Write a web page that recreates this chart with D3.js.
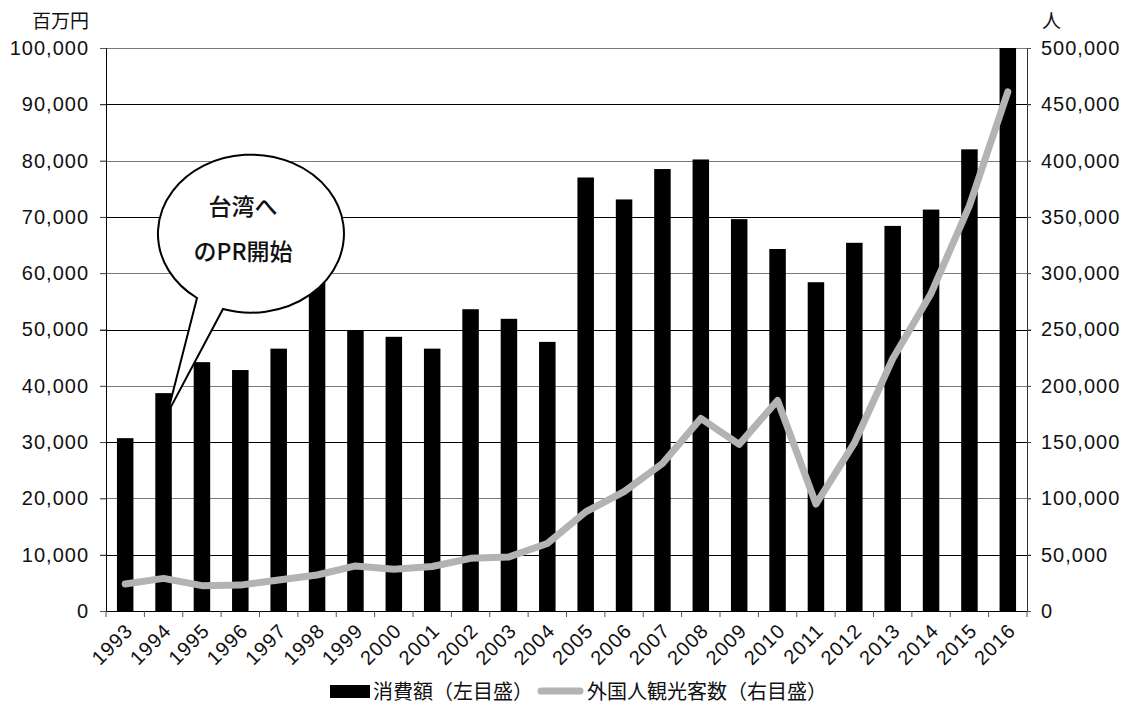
<!DOCTYPE html>
<html>
<head>
<meta charset="utf-8">
<script src="https://cdn.jsdelivr.net/npm/d3@7"></script>
<style>
  body { margin: 0; background: #fff; }
  svg { display: block; font-family: "Liberation Sans", "Noto Sans CJK JP", sans-serif; }
  .num { font-size: 20px; letter-spacing: 1px; fill: #111; }
  .jp { font-family: "Noto Sans CJK JP", sans-serif; }
</style>
</head>
<body>
<figure id="chart" style="margin:0"></figure>
<script>
const years = ["1993","1994","1995","1996","1997","1998","1999","2000","2001","2002","2003","2004",
  "2005","2006","2007","2008","2009","2010","2011","2012","2013","2014","2015","2016"];
// 消費額 (百万円, left axis)
const spending = [30700, 38700, 44200, 42800, 46600, 58700, 49900, 48700, 46600, 53600, 51900, 47800,
  77000, 73100, 78500, 80200, 69600, 64300, 58400, 65400, 68400, 71300, 82000, 100000];
// 外国人観光客数 (人, right axis)
const visitors = [24000, 29000, 22500, 23000, 27500, 32000, 40000, 37000, 39500, 46800, 48000, 60000,
  88000, 106000, 131000, 171000, 148000, 187000, 95000, 149000, 224000, 282000, 360000, 461000];
const leftTicks = d3.range(0, 100001, 10000);
const rightTicks = d3.range(0, 500001, 50000);

const W = 1125, H = 704;
const margin = { top: 48, right: 98, bottom: 93, left: 106 };
const width = W - margin.left - margin.right;
const height = H - margin.top - margin.bottom;

const svg = d3.select("#chart").append("svg")
  .attr("width", W).attr("height", H);
const g = svg.append("g")
  .attr("transform", "translate(" + margin.left + "," + margin.top + ")");

const x = d3.scaleBand().domain(years).range([0, width]).paddingInner(0.57).paddingOuter(0.285);
const xb = d3.scaleBand().domain(years).range([0, width]);
const yL = d3.scaleLinear().domain([0, 100000]).range([height, 0]);
const yR = d3.scaleLinear().domain([0, 500000]).range([height, 0]);
const fmt = d3.format(",");

// gridlines (alternating grey / black like the source)
g.append("g").selectAll("line")
  .data(leftTicks.filter(d => d > 0))
  .enter().append("line")
  .attr("x1", -6).attr("x2", width + 4)
  .attr("y1", d => Math.round(yL(d)) + 0.5).attr("y2", d => Math.round(yL(d)) + 0.5)
  .attr("stroke", d => (d / 10000) % 2 === 0 ? "#7a7a7a" : "#000")
  .attr("stroke-width", 1.2);

// bars
g.selectAll("rect.bar")
  .data(years)
  .enter().append("rect")
  .attr("class", "bar")
  .attr("x", (d) => x(d))
  .attr("y", (d, i) => yL(spending[i]))
  .attr("width", x.bandwidth())
  .attr("height", (d, i) => height - yL(spending[i]))
  .attr("fill", "#000");

// left axis
const axL = g.append("g")
  .call(d3.axisLeft(yL).tickValues(leftTicks).tickFormat(fmt).tickSize(6).tickPadding(11));
axL.select(".domain").attr("stroke", "#000");
axL.selectAll(".tick line").attr("stroke", "#555");
axL.selectAll("text").attr("class", "num").attr("font-family", null).attr("font-size", null);

// right axis
const axR = g.append("g")
  .attr("transform", "translate(" + width + ",0)")
  .call(d3.axisRight(yR).tickValues(rightTicks).tickFormat(fmt).tickSize(4).tickPadding(10));
axR.select(".domain").attr("stroke", "#333");
axR.selectAll(".tick line").attr("stroke", "#555");
axR.selectAll("text").attr("class", "num").attr("font-family", null).attr("font-size", null);

// bottom axis: ticks at band edges
const axB = g.append("g").attr("transform", "translate(0," + height + ")");
axB.append("line").attr("x1", 0).attr("x2", width).attr("y1", 0.5).attr("y2", 0.5).attr("stroke", "#000");
axB.selectAll("line.tk")
  .data(years.concat(["end"]))
  .enter().append("line")
  .attr("class", "tk")
  .attr("x1", (d, i) => i < years.length ? xb(d) : width)
  .attr("x2", (d, i) => i < years.length ? xb(d) : width)
  .attr("y1", 0).attr("y2", 6).attr("stroke", "#555");
axB.selectAll("text")
  .data(years)
  .enter().append("text")
  .attr("class", "num")
  .attr("text-anchor", "end")
  .attr("transform", d => "translate(" + (xb(d) + xb.bandwidth() / 2 + 9) + ",21) rotate(-45)")
  .text(d => d);

// visitor line
const line = d3.line()
  .x((d, i) => xb(years[i]) + xb.bandwidth() / 2)
  .y(d => yR(d));
g.append("path")
  .datum(visitors)
  .attr("d", line)
  .attr("fill", "none")
  .attr("stroke", "#b3b3b3")
  .attr("stroke-width", 7)
  .attr("stroke-linejoin", "round")
  .attr("stroke-linecap", "round");

// unit labels
svg.append("text").attr("class", "jp").attr("x", 89).attr("y", 28)
  .attr("text-anchor", "end").attr("font-size", 19).attr("fill", "#111").text("百万円");
svg.append("text").attr("class", "jp").attr("x", 1042).attr("y", 28)
  .attr("font-size", 19).attr("fill", "#111").text("人");

// speech bubble pointing at 1994
const cx = 245 - margin.left, cy = 231 - margin.top, rx = 93, ry = 79;
const tipX = xb("1994") + xb.bandwidth() / 2 + 4, tipY = yL(spending[1]) + 20;
const ax = cx - 48, ay = cy + 67, bx = cx - 22, by = cy + 78;
const bubble = g.append("g");
bubble.append("path")
  .attr("d", "M" + ax + "," + ay + " A" + rx + "," + ry + " 0 1 1 " + bx + "," + by +
    " L" + tipX + "," + tipY + " Z")
  .attr("fill", "#fff").attr("stroke", "#000").attr("stroke-width", 2);
bubble.append("text").attr("class", "jp").attr("x", cx - 2).attr("y", cy - 16)
  .attr("text-anchor", "middle").attr("font-size", 23).attr("font-weight", 500).attr("fill", "#111")
  .text("台湾へ");
bubble.append("text").attr("class", "jp").attr("x", cx - 2).attr("y", cy + 29)
  .attr("text-anchor", "middle").attr("font-size", 23).attr("font-weight", 500).attr("fill", "#111")
  .text("のPR開始");

// legend
const leg = svg.append("g").attr("class", "jp");
leg.append("rect").attr("x", 330).attr("y", 685).attr("width", 40).attr("height", 13).attr("fill", "#000");
leg.append("text").attr("x", 373).attr("y", 699).attr("font-size", 20)
  .attr("fill", "#111").text("消費額（左目盛）");
leg.append("line").attr("x1", 541).attr("x2", 580).attr("y1", 691).attr("y2", 691)
  .attr("stroke", "#b3b3b3").attr("stroke-width", 7).attr("stroke-linecap", "round");
leg.append("text").attr("x", 587).attr("y", 699).attr("font-size", 20)
  .attr("fill", "#111").text("外国人観光客数（右目盛）");
</script>
</body>
</html>
